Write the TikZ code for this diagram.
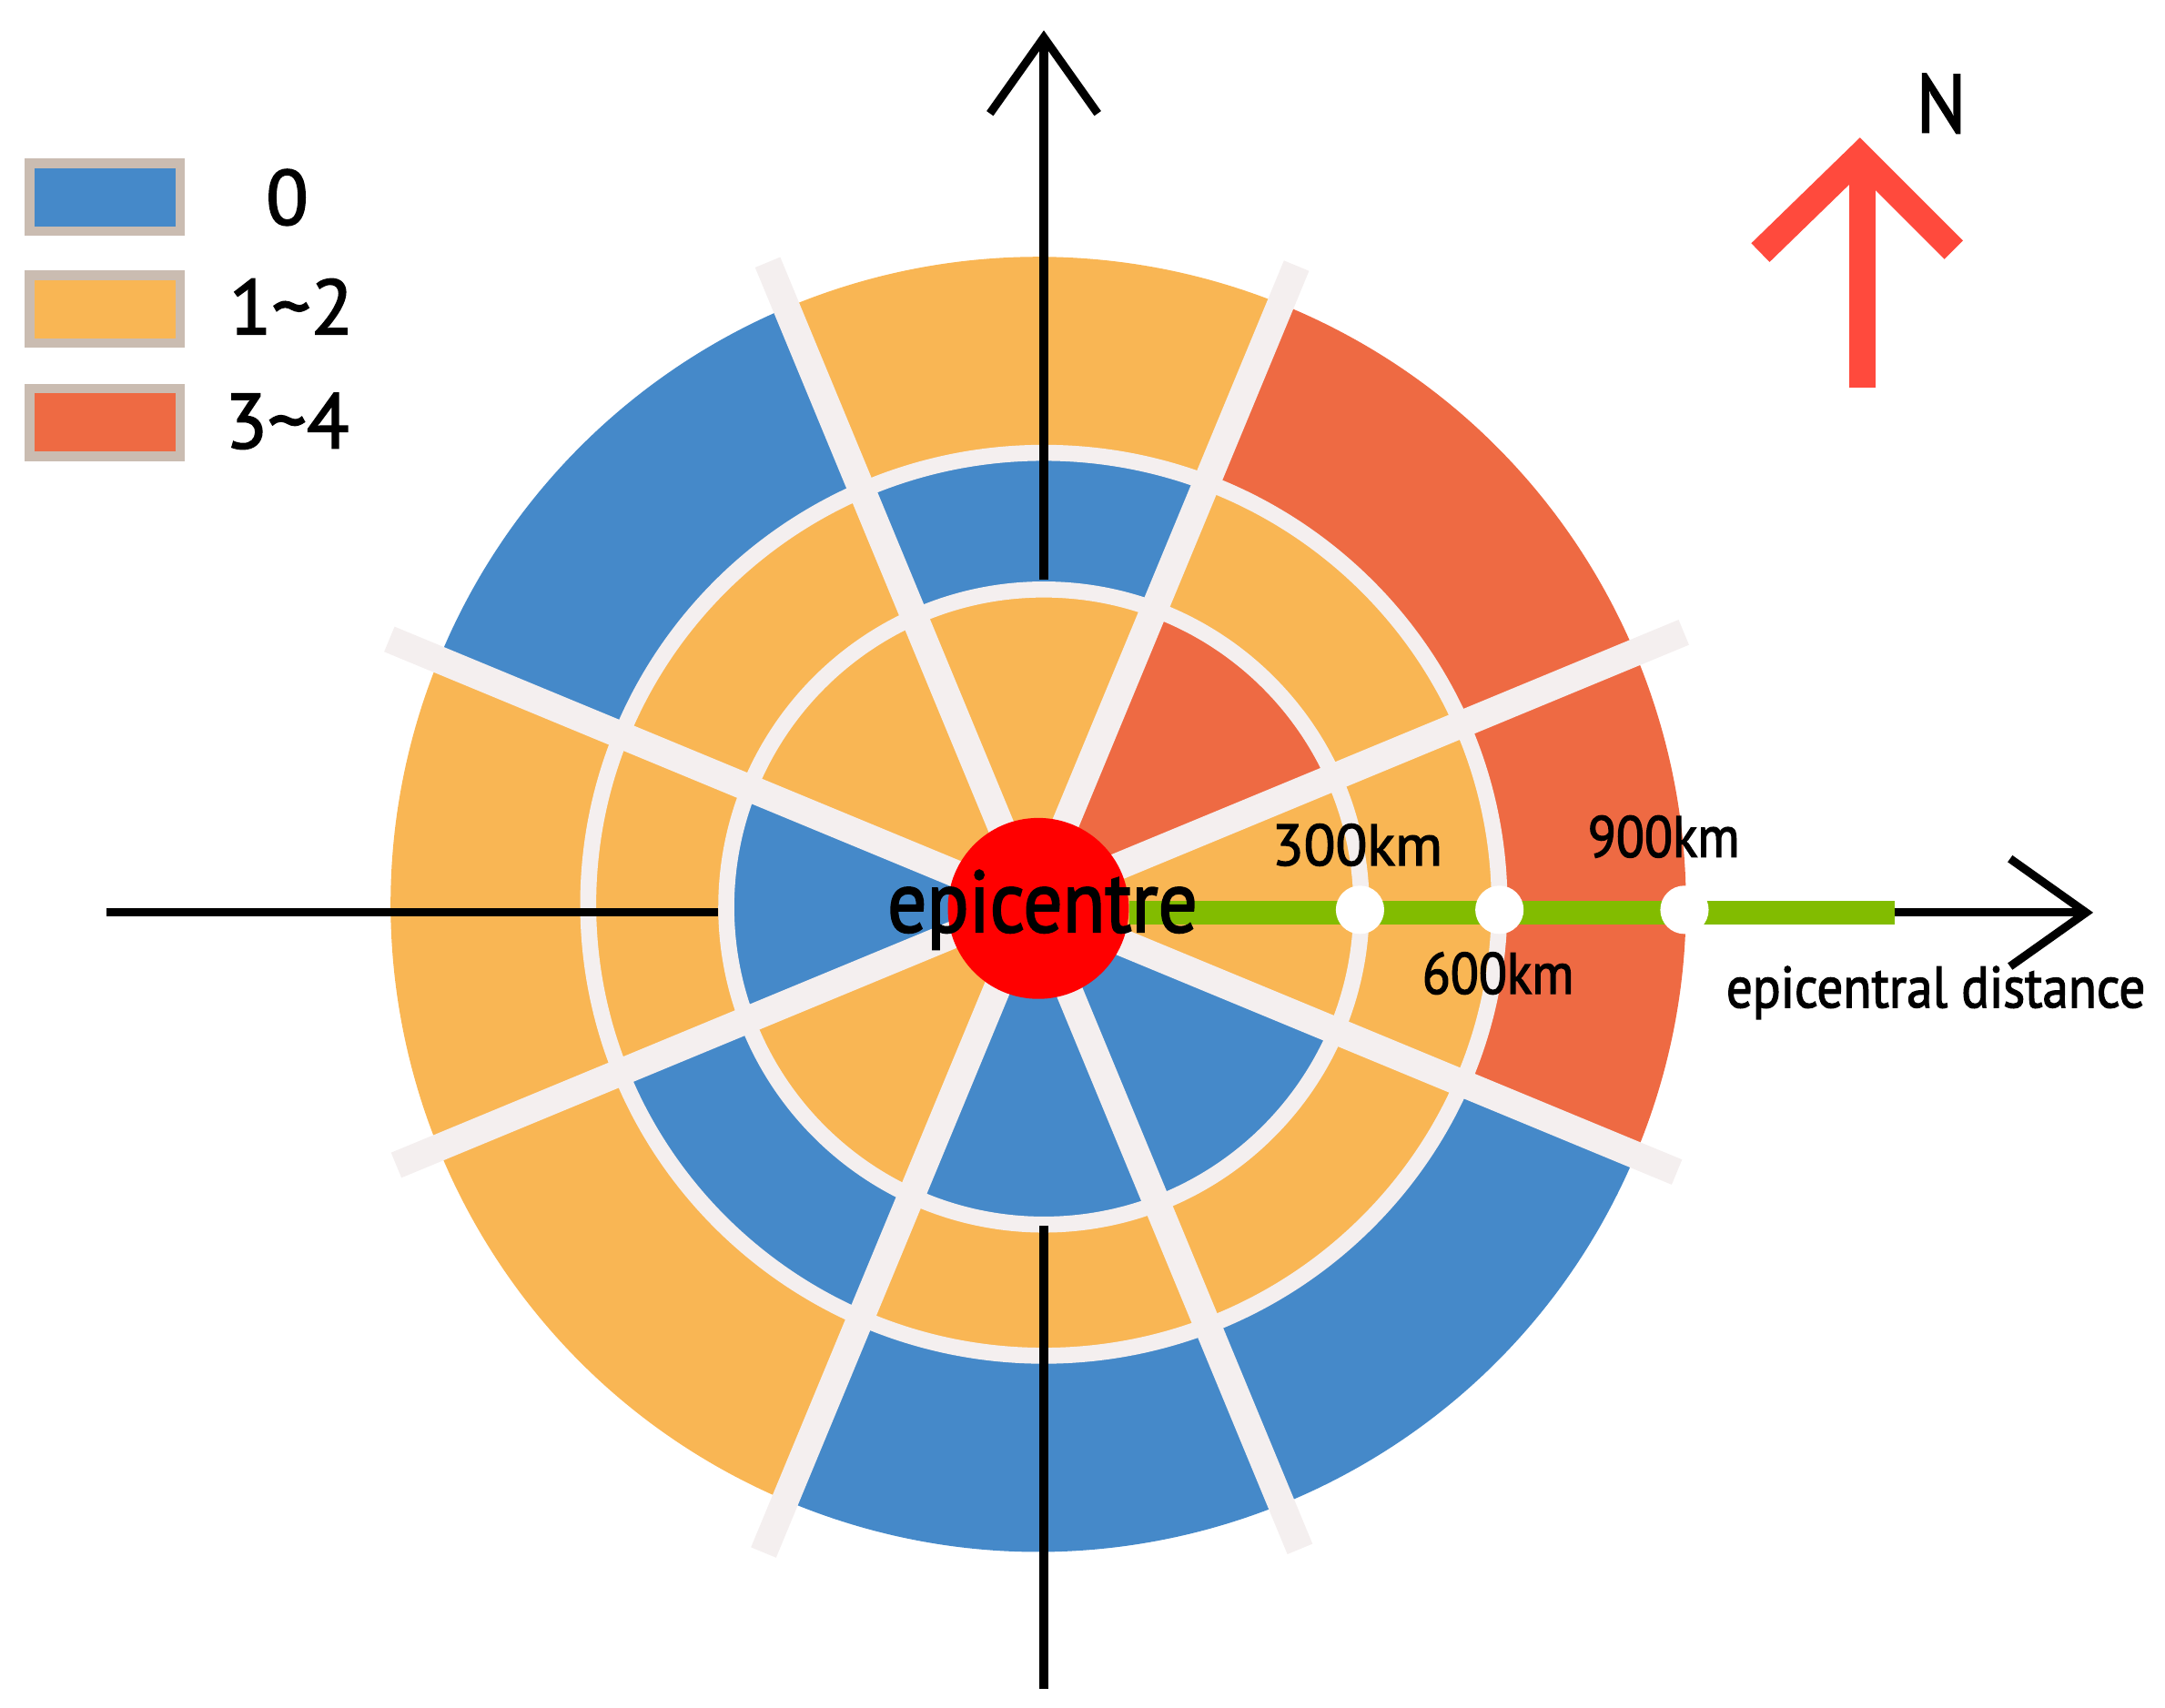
\documentclass[tikz,border=0pt]{standalone}
\usepackage{fontspec}
\setmainfont[FakeBold=2]{PT Sans}
\newfontfamily\squeezed[FakeStretch=0.89,FakeBold=2]{PT Sans}
\usetikzlibrary{arrows.meta}
\definecolor{ringblue}{HTML}{4589C9}
\definecolor{ringorange}{HTML}{F9B654}
\definecolor{ringred}{HTML}{EE6A43}
\definecolor{ringwhite}{HTML}{F4EFEF}
\definecolor{legendedge}{HTML}{CABCB1}
\definecolor{distgreen}{HTML}{82BC00}
\definecolor{northred}{HTML}{FF4A3D}
\tikzset{
	ringline/.style={line width=3.3pt,draw=ringwhite},
	spokeline/.style={line width=5.6pt,draw=ringwhite},
	axisline/.style={line width=1.7pt},
	axisarrow/.style={axisline,-{Straight Barb[length=0.55cm,width=0.78cm]}},
	legendbox/.style={draw=legendedge,line width=2pt,minimum width=1.09cm,minimum height=0.49cm,inner sep=0pt},
	legendtext/.style={font=\fontsize{16}{16}\selectfont},
	kmtext/.style={font=\squeezed\fontsize{12}{12}\selectfont},
	whitedot/.style={circle,fill=white,minimum size=0.35cm,inner sep=0pt},
	northline/.style={line width=5.4pt,draw=northred}
}
\begin{document}
\begin{tikzpicture}[x=0.01cm,y=0.01cm]
	\useasboundingbox (-752,-582) rectangle (816,655);
	% outer ring
	\fill[ringorange] (0,0) -- (67.5:469) arc[start angle=67.5,end angle=112.5,radius=469] -- cycle;
	\fill[ringred] (0,0) -- (-22.5:469) arc[start angle=-22.5,end angle=67.5,radius=469] -- cycle;
	\fill[ringblue] (0,0) -- (-112.5:469) arc[start angle=-112.5,end angle=-22.5,radius=469] -- cycle;
	\fill[ringorange] (0,0) -- (157.5:469) arc[start angle=157.5,end angle=247.5,radius=469] -- cycle;
	\fill[ringblue] (0,0) -- (112.5:469) arc[start angle=112.5,end angle=157.5,radius=469] -- cycle;
	% middle ring
	\fill[ringblue] (0,0) -- (67.5:330) arc[start angle=67.5,end angle=112.5,radius=330] -- cycle;
	\fill[ringorange] (0,0) -- (-112.5:330) arc[start angle=-112.5,end angle=67.5,radius=330] -- cycle;
	\fill[ringblue] (0,0) -- (202.5:330) arc[start angle=202.5,end angle=247.5,radius=330] -- cycle;
	\fill[ringorange] (0,0) -- (112.5:330) arc[start angle=112.5,end angle=202.5,radius=330] -- cycle;
	% inner ring
	\fill[ringorange] (0,0) -- (67.5:229) arc[start angle=67.5,end angle=157.5,radius=229] -- cycle;
	\fill[ringred] (0,0) -- (22.5:229) arc[start angle=22.5,end angle=67.5,radius=229] -- cycle;
	\fill[ringorange] (0,0) -- (-22.5:229) arc[start angle=-22.5,end angle=22.5,radius=229] -- cycle;
	\fill[ringblue] (0,0) -- (-112.5:229) arc[start angle=-112.5,end angle=-22.5,radius=229] -- cycle;
	\fill[ringorange] (0,0) -- (202.5:229) arc[start angle=202.5,end angle=247.5,radius=229] -- cycle;
	\fill[ringblue] (0,0) -- (157.5:229) arc[start angle=157.5,end angle=202.5,radius=229] -- cycle;
	\draw[ringline] (4,0) ellipse (330 and 327);
	\draw[ringline] (4,-2) circle[radius=230];
	\draw[spokeline] (187,462.5) -- (-199,-469.5);
	\draw[spokeline] (-196,465) -- (189.5,-467);
	\draw[spokeline] (-470,192) -- (462.5,-194);
	\draw[spokeline] (467.5,197) -- (-465,-189);
	% axes
	\coordinate (northtip) at (4,633);
	\coordinate (northfoot) at (4,235);
	\coordinate (southfoot) at (4,-233);
	\coordinate (southend) at (4,-568);
	\coordinate (westend) at (-675,-6);
	\coordinate (westfoot) at (-232,-6);
	\coordinate (distend) at (620,-6);
	\coordinate (easttip) at (764,-6);
	\draw[axisarrow] (northfoot) -- (northtip);
	\draw[axisline] (southfoot) -- (southend);
	\draw[axisline] (westend) -- (westfoot);
	\node[circle,fill=red,minimum size=1.31cm,inner sep=0pt] (epicentre) at (0,-3) {};
	\draw[line width=4.9pt,draw=distgreen] (epicentre.east |- distend) -- (distend);
	\draw[axisarrow] (distend) -- (easttip);
	\node[whitedot] (dot300) at (233,-4) {};
	\node[whitedot] (dot600) at (334,-4) {};
	\node[whitedot] (dot900) at (468,-4) {};
	% labels
	\node[font=\squeezed\fontsize{18}{18}\selectfont] (epilabel) at (3,-4) {epicentre};
	\node[font=\fontsize{12}{12}\selectfont] (label300) at (231,43) {300km};
	\node[kmtext] (label900) at (453,49) {900km};
	\node[kmtext] (label600) at (333,-50) {600km};
	\node[kmtext] (distlabel) at (650,-64) {epicentral distance};
	% legend
	\node[legendbox,fill=ringblue] (legend0) at (-676,512) {};
	\node[legendbox,fill=ringorange] (legend1) at (-676,431) {};
	\node[legendbox,fill=ringred] (legend3) at (-676,349) {};
	\node[legendtext] (text0) at (-544,512) {0};
	\node[legendtext] (text1) at (-541,433) {1\char`~2};
	\node[legendtext] (text3) at (-544,350) {3\char`~4};
	% north arrow
	\coordinate (nleft) at (523,472);
	\coordinate (ntop) at (595,542);
	\coordinate (nright) at (663,474);
	\coordinate (nfoot) at (597,374);
	\coordinate (nshaft) at (597,530);
	\draw[northline] (nfoot) -- (nshaft);
	\draw[northline] (nleft) -- (ntop) -- (nright);
	\node[font=\squeezed\fontsize{17}{17}\selectfont] (nlabel) at (654,580) {N};
\end{tikzpicture}
\end{document}
